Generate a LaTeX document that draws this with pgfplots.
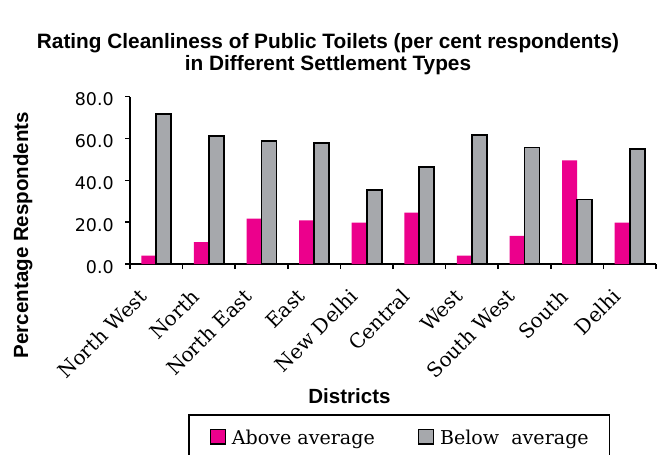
\documentclass[border=0pt]{standalone}
\usepackage{pgfplots}
\pgfplotsset{compat=1.18}
\usepackage{pgfplotstable}
\usepackage{fontspec}
\setmainfont{DejaVu Serif}
\newfontfamily\boldsans{Liberation Sans}
\newfontfamily\ticksans{DejaVu Sans}
\definecolor{mag}{HTML}{EC008C}
\definecolor{gbar}{HTML}{A6A8AC}

\pgfplotstableread{
idx above below
0 4.0 71.5
1 10.5 61.3
2 21.7 58.6
3 20.8 57.8
4 19.8 35.5
5 24.6 46.5
6 4.0 61.5
7 13.4 55.7
8 49.5 30.8
9 19.8 54.9
}\datatable

\begin{document}
\begin{tikzpicture}
\useasboundingbox (0,0) rectangle (492.75pt,340.5pt);
\node[font=\boldsans\bfseries\fontsize{15.6}{18}\selectfont, anchor=base, inner sep=0pt] at (246pt,304.4pt) {Rating Cleanliness of Public Toilets (per cent respondents)};
\node[font=\boldsans\bfseries\fontsize{15.6}{18}\selectfont, anchor=base, inner sep=0pt] at (246pt,287.25pt) {in Different Settlement Types};
\node[font=\boldsans\bfseries\fontsize{15.4}{18}\selectfont, rotate=90, anchor=base, inner sep=0pt] at (21pt,164.25pt) {Percentage Respondents};
\node[font=\boldsans\bfseries\fontsize{15.4}{18}\selectfont, anchor=base, inner sep=0pt] at (262.1pt,38pt) {Districts};
\begin{axis}[
  at={(97.5pt,142.5pt)}, anchor=south west,
  scale only axis, width=394.5pt, height=125.6pt,
  xmin=-0.5, xmax=9.5, ymin=0, ymax=80,
  axis x line*=bottom, axis y line*=left,
  axis line style={-, line width=1.4pt, black},
  ybar=0pt, bar width=0.285,
  xtick={0,...,9},
  xticklabels={North West, North, North East, East, New Delhi, Central, West, South West, South, Delhi},
  major x tick style={draw=none},
  minor xtick={-0.5,0.5,...,9.5},
  ytick={0,20,40,60,80},
  tick align=outside,
  major tick length=3.75pt, minor tick length=3.75pt,
  tick style={black, line width=1.1pt},
  /pgf/number format/.cd, fixed, fixed zerofill, precision=1, assume math mode=true,
  /pgfplots/.cd,
  yticklabel style={font=\ticksans\fontsize{13.1}{15}\selectfont, inner sep=0pt, xshift=-8.25pt, yshift=-2pt},
  xticklabel style={font=\fontsize{15}{17}\selectfont, inner sep=0pt, xshift=-9.7pt, yshift=-17.85pt, rotate=45, anchor=east},
  legend image code/.code={\draw[#1, line width=0.9pt] (0pt,-4.5pt) rectangle (11pt,6.5pt);},
  legend columns=2,
  legend style={at={(0.1108,-0.897)}, anchor=north west, draw=black, line width=1.1pt,
    inner xsep=15.75pt, inner ysep=10.4pt,
    font=\fontsize{14.3}{17}\selectfont,
    nodes={inner sep=0pt},
    /tikz/every even column/.append style={column sep=32.5pt},
    /tikz/every odd column/.append style={column sep=4.5pt}},
  legend cell align=left,
]
\addplot[fill=mag, draw=none] table[x=idx, y=above] {\datatable};
\addplot[fill=gbar, draw=black, line width=1.3pt] table[x=idx, y=below] {\datatable};
\legend{Above average, Below~ average}
\end{axis}
\end{tikzpicture}
\end{document}
